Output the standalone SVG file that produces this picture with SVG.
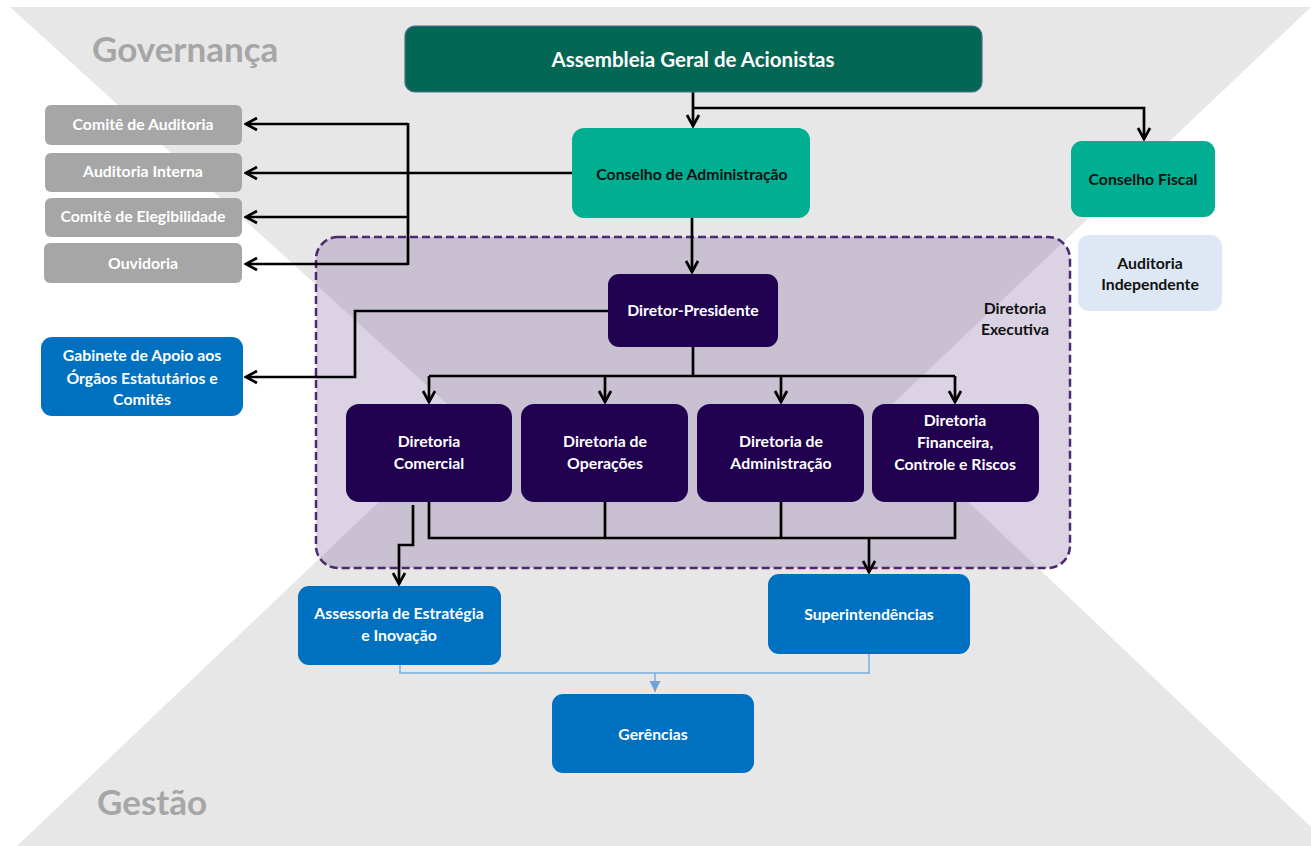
<svg xmlns="http://www.w3.org/2000/svg" width="1311" height="846" viewBox="0 0 1311 846">
<style>
text{font-family:Lato,"Liberation Sans",sans-serif;font-weight:bold;text-anchor:middle}
.w{fill:#ffffff;font-size:15.8px}
.k{fill:#111111;font-size:15.8px}
.big{fill:#a6a6a6;font-size:35px;text-anchor:start}
.grey{fill:#a6a6a6}
.blue{fill:#0070c0}
.teal{fill:#00ae91}
.dp{fill:#20004f}
.ln{fill:none;stroke:#000;stroke-width:2.7}
.lb{fill:none;stroke:#7aaede;stroke-width:1.5}
</style>
<defs>
<marker id="ah" markerUnits="userSpaceOnUse" markerWidth="16" markerHeight="16" viewBox="0 0 16 16" refX="14" refY="8" orient="auto">
<path d="M3,2 L14,8 L3,14" fill="none" stroke="#000" stroke-width="2.7"/>
</marker>
<marker id="ab" markerUnits="userSpaceOnUse" markerWidth="12" markerHeight="12" viewBox="0 0 12 12" refX="11" refY="6" orient="auto">
<path d="M0,0.5 L11,6 L0,11.5 z" fill="#6fa3d8"/>
</marker>
<clipPath id="boxclip"><rect x="316" y="237" width="754" height="331" rx="22"/></clipPath>
</defs>
<rect width="1311" height="846" fill="#ffffff"/>
<polygon points="10,7 1311,7 879,417 1311,827 1311,846 17,846 465,420" fill="#e7e7e7"/>
<g id="diretoria-executiva">
<rect x="316" y="237" width="754" height="331" rx="22" fill="#dbd3e3"/>
<polygon clip-path="url(#boxclip)" points="10,7 1311,7 879,417 1311,827 1311,846 17,846 465,420" fill="#c9c0d2"/>
<rect x="316" y="237" width="754" height="331" rx="22" fill="none" stroke="#4a2a6c" stroke-width="2.5" stroke-dasharray="8 4"/>
<text class="k" x="1015" y="314">Diretoria</text>
<text class="k" x="1015" y="335">Executiva</text>
</g>
<text class="big" x="92" y="62">Governança</text>
<text class="big" x="97" y="815">Gestão</text>
<g id="connectors">
<path class="ln" d="M693,92 V126" marker-end="url(#ah)"/>
<path class="ln" d="M693,108 H1144 V139" marker-end="url(#ah)"/>
<path class="ln" d="M572,173 H246" marker-end="url(#ah)"/>
<path class="ln" d="M408,124 H246" marker-end="url(#ah)"/>
<path class="ln" d="M408,217 H246" marker-end="url(#ah)"/>
<path class="ln" d="M408,264 H246" marker-end="url(#ah)"/>
<path class="ln" d="M408,123 V265"/>
<path class="ln" d="M692,218 V272" marker-end="url(#ah)"/>
<path class="ln" d="M608,311 H355 V377 H246" marker-end="url(#ah)"/>
<path class="ln" d="M693,347 V376"/>
<path class="ln" d="M429,376 H955"/>
<path class="ln" d="M429,376 V402" marker-end="url(#ah)"/>
<path class="ln" d="M605,376 V402" marker-end="url(#ah)"/>
<path class="ln" d="M781,376 V402" marker-end="url(#ah)"/>
<path class="ln" d="M955,376 V402" marker-end="url(#ah)"/>
<path class="ln" d="M429,502 V538 H955 V502"/>
<path class="ln" d="M605,502 V538"/>
<path class="ln" d="M781,502 V538"/>
<path class="ln" d="M869,538 V572" marker-end="url(#ah)"/>
<path class="ln" d="M413,505 V545 H399 V584" marker-end="url(#ah)"/>
<path class="lb" d="M400,665 V673 H869 V654"/>
<path class="lb" d="M655,673 V692" marker-end="url(#ab)"/>
</g>
<g id="assembleia">
<rect x="405" y="26" width="577" height="66" rx="10" fill="#036753" stroke="#4a6d96" stroke-width="1.2"/>
<text class="w" x="693" y="67" style="font-size:20.5px">Assembleia Geral de Acionistas</text>
</g>
<g id="conselho-adm">
<rect x="572" y="128" width="238" height="90" rx="12" class="teal"/>
<text class="k" x="692" y="180">Conselho de Administração</text>
</g>
<g id="conselho-fiscal">
<rect x="1071" y="141" width="144" height="76" rx="11" class="teal"/>
<text class="k" x="1143" y="185">Conselho Fiscal</text>
</g>
<g id="auditoria-independente">
<rect x="1078" y="235" width="144" height="76" rx="11" fill="#dee8f4"/>
<text class="k" x="1150" y="269">Auditoria</text>
<text class="k" x="1150" y="290">Independente</text>
</g>
<g id="comite-auditoria">
<rect x="45" y="105" width="197" height="40" rx="6" class="grey"/>
<text class="w" x="143" y="130">Comitê de Auditoria</text>
</g>
<g id="auditoria-interna">
<rect x="45" y="153" width="197" height="39" rx="6" class="grey"/>
<text class="w" x="143" y="177">Auditoria Interna</text>
</g>
<g id="comite-elegibilidade">
<rect x="45" y="198" width="197" height="39" rx="6" class="grey"/>
<text class="w" x="143" y="222">Comitê de Elegibilidade</text>
</g>
<g id="ouvidoria">
<rect x="44" y="243" width="198" height="40" rx="6" class="grey"/>
<text class="w" x="143" y="269">Ouvidoria</text>
</g>
<g id="gabinete">
<rect x="41" y="337" width="202" height="79" rx="11" class="blue"/>
<text class="w" x="142" y="361">Gabinete de Apoio aos</text>
<text class="w" x="142" y="384">Órgãos Estatutários e</text>
<text class="w" x="142" y="405">Comitês</text>
</g>
<g id="diretor-presidente">
<rect x="608" y="274" width="170" height="73" rx="11" class="dp"/>
<text class="w" x="693" y="316">Diretor-Presidente</text>
</g>
<g id="diretoria-comercial">
<rect x="346" y="404" width="166" height="98" rx="13" class="dp"/>
<text class="w" x="429" y="447">Diretoria</text>
<text class="w" x="429" y="469">Comercial</text>
</g>
<g id="diretoria-operacoes">
<rect x="521" y="404" width="167" height="98" rx="13" class="dp"/>
<text class="w" x="605" y="447">Diretoria de</text>
<text class="w" x="605" y="469">Operações</text>
</g>
<g id="diretoria-administracao">
<rect x="697" y="404" width="167" height="98" rx="13" class="dp"/>
<text class="w" x="781" y="447">Diretoria de</text>
<text class="w" x="781" y="469">Administração</text>
</g>
<g id="diretoria-financeira">
<rect x="872" y="404" width="167" height="98" rx="13" class="dp"/>
<text class="w" x="955" y="426">Diretoria</text>
<text class="w" x="955" y="448">Financeira,</text>
<text class="w" x="955" y="470">Controle e Riscos</text>
</g>
<g id="assessoria">
<rect x="298" y="586" width="203" height="79" rx="11" class="blue"/>
<text class="w" x="399" y="619">Assessoria de Estratégia</text>
<text class="w" x="399" y="641">e Inovação</text>
</g>
<g id="superintendencias">
<rect x="768" y="574" width="202" height="80" rx="11" class="blue"/>
<text class="w" x="869" y="620">Superintendências</text>
</g>
<g id="gerencias">
<rect x="552" y="694" width="202" height="79" rx="11" class="blue"/>
<text class="w" x="653" y="740">Gerências</text>
</g>
</svg>
